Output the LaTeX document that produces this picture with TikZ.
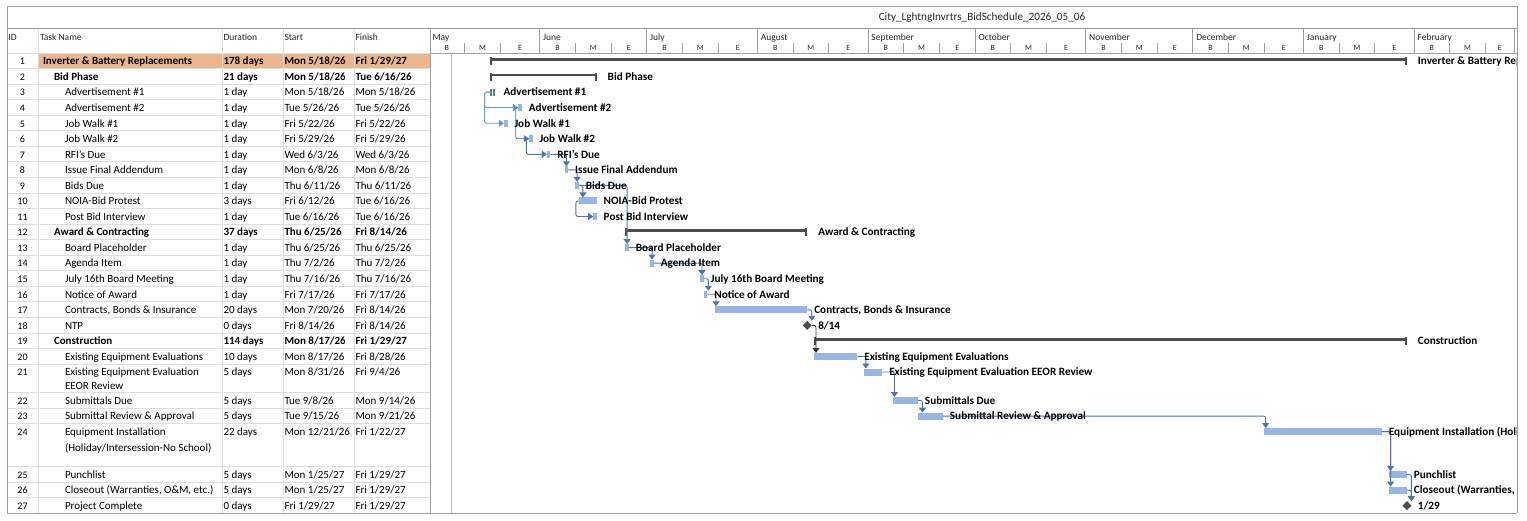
\documentclass[tikz,border=0pt]{standalone}
\usepackage{fontspec}
\setmainfont{Carlito}
\usetikzlibrary{arrows.meta,shapes.geometric,calc}
\definecolor{barblue}{RGB}{151,181,230}
\definecolor{linkblue}{RGB}{76,114,186}
\definecolor{tealbar}{RGB}{70,140,150}
\definecolor{teallink}{RGB}{110,165,190}
\definecolor{sumgray}{RGB}{77,77,77}
\definecolor{hilite}{RGB}{235,182,140}
\definecolor{gridgray}{RGB}{222,222,222}
\definecolor{framegray}{RGB}{160,160,160}

\newcommand\tabrow[8]{%
  \node[idtxt,anchor=base] (id#2) at (22.5,#1) {#2};
  \node[tabtxt,anchor=base west,font=\fontsize{11}{13}\selectfont#8] (nm#2) at (#3,#1) {#4};
  \node[tabtxt,anchor=base west,font=\fontsize{11}{13}\selectfont#8] (du#2) at (223.5,#1) {#5};
  \node[tabtxt,anchor=base west,font=\fontsize{11}{13}\selectfont#8] (st#2) at (284.5,#1) {#6};
  \node[tabtxt,anchor=base west,font=\fontsize{11}{13}\selectfont#8] (fi#2) at (355.5,#1) {#7};
}
\newcommand\gtask[5]{%
  \pgfmathsetmacro\gxa{429+3.569*(#2)}%
  \pgfmathsetmacro\gxw{3.569*((#3)-(#2))}%
  \node[taskbar,#5,minimum width=\gxw pt,anchor=west] (#1) at (\gxa,#4) {};
}
\newcommand\gsum[4]{%
  \pgfmathsetmacro\gxa{429+3.569*(#2)}%
  \pgfmathsetmacro\gxw{3.569*((#3)-(#2))}%
  \node[sumbar,minimum width=\gxw pt,anchor=west] (#1) at (\gxa,#4) {};
  \fill[sumgray] ([yshift=1pt]#1.north west) rectangle ([xshift=2pt,yshift=-4.5pt]#1.south west);
  \fill[sumgray] ([xshift=-2pt,yshift=1pt]#1.north east) rectangle ([yshift=-4.5pt]#1.south east);
}

\begin{document}
\begin{tikzpicture}[x=1pt,y=-1pt,
  tabtxt/.style={inner sep=0pt,outer sep=0pt},
  idtxt/.style={inner sep=0pt,outer sep=0pt,font=\fontsize{10}{12}\selectfont},
  hdr/.style={inner sep=0pt,outer sep=0pt,anchor=base west,font=\fontsize{9.5}{11}\selectfont,text=black!85},
  mon/.style={inner sep=0pt,outer sep=0pt,anchor=base west,font=\fontsize{9.5}{11}\selectfont,text=black!85},
  thd/.style={inner sep=0pt,outer sep=0pt,anchor=base,font=\fontsize{8}{10}\selectfont,text=black!85},
  glbl/.style={inner sep=0pt,outer sep=0pt,anchor=base west,font=\fontsize{11.2}{13}\selectfont\bfseries},
  taskbar/.style={rectangle,fill=barblue,draw=none,inner sep=0pt,outer sep=0pt,minimum height=7pt},
  sumbar/.style={rectangle,fill=sumgray,draw=none,inner sep=0pt,outer sep=0pt,minimum height=2.6pt},
  mstone/.style={diamond,fill=sumgray,draw=none,inner sep=0pt,outer sep=0pt,minimum size=9pt},
  lnk/.style={draw=linkblue,line width=0.9pt,rounded corners=2pt,-{Triangle[length=5pt,width=7pt]}},
  tlnk/.style={lnk,draw=teallink,-{Triangle[length=5pt,width=7pt,fill=linkblue!70!teallink]}},
  klnk/.style={lnk,draw=sumgray!70!black},
  grid/.style={draw=gridgray,line width=0.8pt},
  frame/.style={draw=framegray,line width=0.9pt}
]
\useasboundingbox (0,0) rectangle (1527,520);
\fill[white] (0,0) rectangle (1527,520);

% ---------- table ----------
\fill[hilite] (38,53) rectangle (430,68.55);
\foreach \yy in {53,68.55,84.1,99.65,115.2,130.75,146.3,161.85,177.4,192.95,208.5,224.05,239.6,255.15,270.7,286.25,301.8,317.35,332.9,348.45,364,392.5,408.05,423.6,466.5,482.05,497.6}
  \draw[grid] (7,\yy) -- (430,\yy);
\foreach \xx in {38,222,283,354}
  \draw[grid] (\xx,28) -- (\xx,513.15);

% frame
\draw[frame] (7,6) -- (1517,6);
\draw[frame] (7,28) -- (1517,28);
\draw[frame] (7,6) -- (7,513.15);
\draw[frame] (1517,6) -- (1517,513.15);
\draw[frame] (7,513.15) -- (1517,513.15);
\draw[frame] (430,28) -- (430,513.15);
\draw[frame] (430,53) -- (1517,53);

\node[inner sep=0pt,font=\fontsize{11.2}{13}\selectfont,text=black!85] (title) at (982,17.5) {City\_LghtngInvrtrs\_BidSchedule\_2026\_05\_06};

\node[hdr] (hid) at (8.5,40.2) {ID};
\node[hdr] (hname) at (40,40.2) {Task Name};
\node[hdr] (hdur) at (223.5,40.2) {Duration};
\node[hdr] (hstart) at (284.5,40.2) {Start};
\node[hdr] (hfin) at (355.5,40.2) {Finish};

\tabrow{64.8}{1}{43}{Inverter \& Battery Replacements}{178 days}{Mon 5/18/26}{Fri 1/29/27}{\bfseries}
\tabrow{80.35}{2}{54}{Bid Phase}{21 days}{Mon 5/18/26}{Tue 6/16/26}{\bfseries}
\tabrow{95.9}{3}{65}{Advertisement \#1}{1 day}{Mon 5/18/26}{Mon 5/18/26}{}
\tabrow{111.45}{4}{65}{Advertisement \#2}{1 day}{Tue 5/26/26}{Tue 5/26/26}{}
\tabrow{127}{5}{65}{Job Walk \#1}{1 day}{Fri 5/22/26}{Fri 5/22/26}{}
\tabrow{142.55}{6}{65}{Job Walk \#2}{1 day}{Fri 5/29/26}{Fri 5/29/26}{}
\tabrow{158.1}{7}{65}{RFI's Due}{1 day}{Wed 6/3/26}{Wed 6/3/26}{}
\tabrow{173.65}{8}{65}{Issue Final Addendum}{1 day}{Mon 6/8/26}{Mon 6/8/26}{}
\tabrow{189.2}{9}{65}{Bids Due}{1 day}{Thu 6/11/26}{Thu 6/11/26}{}
\tabrow{204.75}{10}{65}{NOIA-Bid Protest}{3 days}{Fri 6/12/26}{Tue 6/16/26}{}
\tabrow{220.3}{11}{65}{Post Bid Interview}{1 day}{Tue 6/16/26}{Tue 6/16/26}{}
\tabrow{235.85}{12}{54}{Award \& Contracting}{37 days}{Thu 6/25/26}{Fri 8/14/26}{\bfseries}
\tabrow{251.4}{13}{65}{Board Placeholder}{1 day}{Thu 6/25/26}{Thu 6/25/26}{}
\tabrow{266.95}{14}{65}{Agenda Item}{1 day}{Thu 7/2/26}{Thu 7/2/26}{}
\tabrow{282.5}{15}{65}{July 16th Board Meeting}{1 day}{Thu 7/16/26}{Thu 7/16/26}{}
\tabrow{298.05}{16}{65}{Notice of Award}{1 day}{Fri 7/17/26}{Fri 7/17/26}{}
\tabrow{313.6}{17}{65}{Contracts, Bonds \& Insurance}{20 days}{Mon 7/20/26}{Fri 8/14/26}{}
\tabrow{329.15}{18}{65}{NTP}{0 days}{Fri 8/14/26}{Fri 8/14/26}{}
\tabrow{344.7}{19}{54}{Construction}{114 days}{Mon 8/17/26}{Fri 1/29/27}{\bfseries}
\tabrow{360.25}{20}{65}{Existing Equipment Evaluations}{10 days}{Mon 8/17/26}{Fri 8/28/26}{}
\tabrow{375.8}{21}{65}{Existing Equipment Evaluation}{5 days}{Mon 8/31/26}{Fri 9/4/26}{}
\node[tabtxt,anchor=base west,font=\fontsize{11}{13}\selectfont] (nm21b) at (65,389.8) {EEOR Review};
\tabrow{404.3}{22}{65}{Submittals Due}{5 days}{Tue 9/8/26}{Mon 9/14/26}{}
\tabrow{419.85}{23}{65}{Submittal Review \& Approval}{5 days}{Tue 9/15/26}{Mon 9/21/26}{}
\tabrow{435.4}{24}{65}{Equipment Installation}{22 days}{Mon 12/21/26}{Fri 1/22/27}{}
\node[tabtxt,anchor=base west,font=\fontsize{11}{13}\selectfont] (nm24b) at (65,451.4) {(Holiday/Intersession-No School)};
\tabrow{478.3}{25}{65}{Punchlist}{5 days}{Mon 1/25/27}{Fri 1/29/27}{}
\tabrow{493.85}{26}{65}{Closeout (Warranties, O\&M, etc.)}{5 days}{Mon 1/25/27}{Fri 1/29/27}{}
\tabrow{509.4}{27}{65}{Project Complete}{0 days}{Fri 1/29/27}{Fri 1/29/27}{}

% ---------- timescale ----------
\begin{scope}
\clip (430,28) rectangle (1516.5,53);
\foreach \ma/\mb/\mname [count=\i] in {0/31/May,31/61/June,61/92/July,92/123/August,123/153/September,153/184/October,184/214/November,214/245/December,245/276/January,276/304/February}{
  \pgfmathsetmacro\xa{429+3.569*\ma}
  \pgfmathsetmacro\xb{429+3.569*(\ma+10)}
  \pgfmathsetmacro\xc{429+3.569*(\ma+20)}
  \pgfmathsetmacro\xd{429+3.569*\mb}
  \draw[frame] (\xa,28) -- (\xa,53);
  \draw[frame] (\xb,43) -- (\xb,53);
  \draw[frame] (\xc,43) -- (\xc,53);
  \draw[frame] (\xd,28) -- (\xd,53);
  \node[mon] (mon\i) at (\xa+3.5,40.2) {\mname};
  \node[thd] (tb\i) at ({(\xa+\xb)/2},50.8) {B};
  \node[thd] (tm\i) at ({(\xb+\xc)/2},50.8) {M};
  \node[thd] (te\i) at ({(\xc+\xd)/2},50.8) {E};
}
\end{scope}

% ---------- chart ----------
\begin{scope}
\clip (430.5,53.5) rectangle (1516.5,513);
\draw[grid,draw=framegray!70] (451.5,53) -- (451.5,513.15);

\gsum{s1}{17}{274}{59.5}
\gsum{s2}{17}{47}{75.05}
\gtask{b3}{17}{18.4}{92.1}{fill=tealbar}
\draw[white,line width=0.7pt] (b3.north) -- (b3.south);
\gtask{b4}{25}{26}{107.65}{}
\gtask{b5}{21}{22}{123.2}{}
\gtask{b6}{28}{29}{138.75}{}
\gtask{b7}{33}{34}{154.3}{}
\gtask{b8}{38}{39}{169.85}{}
\gtask{b9}{41}{42}{185.4}{}
\gtask{b10}{42}{47}{200.95}{}
\gtask{b11}{46}{47}{216.5}{}
\gsum{s12}{55}{106}{230.55}
\gtask{b13}{55}{56}{247.6}{}
\gtask{b14}{62}{63}{263.15}{}
\gtask{b15}{76}{77}{278.7}{}
\gtask{b16}{77}{78}{294.25}{}
\gtask{b17}{80}{106}{309.8}{}
\node[mstone] (m18) at (807.3,325.35) {};
\gsum{s19}{108}{274}{339.4}
\gtask{b20}{108}{120}{356.45}{}
\gtask{b21}{122}{127}{372}{}
\gtask{b22}{130}{137}{400.5}{}
\gtask{b23}{137}{144}{416.05}{}
\gtask{b24}{234}{267}{431.6}{}
\gtask{b25}{269}{274}{474.5}{}
\gtask{b26}{269}{274}{490.05}{}
\node[mstone] (m27) at (1406.9,505.6) {};

% links
\draw[tlnk] (b3.west) -- ++(-5,0) |- (b4.west);
\draw[tlnk] (b3.west) -- ++(-5,0) |- (b5.west);
\draw[lnk] (b4.west) -- ++(-2.5,0) |- (b6.west);
\draw[lnk] (b6.west) -- ++(-2.5,0) |- (b7.west);
\draw[lnk] (b7.east) -| (b8.north);
\draw[lnk] (b8.east) -| (b9.north);
\draw[lnk] (b9.east) -| ([xshift=4pt]b9.east |- b10.north);
\draw[lnk] (b10.west) -- ++(-3,0) |- (b11.west);
\draw[lnk] (b9.east) -| (b13.north);
\draw[lnk] (b13.east) -| (b14.north);
\draw[lnk] (b14.east) -| (b15.north);
\draw[lnk] (b15.east) -| ([xshift=4.5pt]b15.east |- b16.north);
\draw[lnk] (b16.east) -| ([xshift=1.5pt]b17.north west);
\draw[lnk] (b17.east) -| ([xshift=4.5pt]b17.east |- m18.north);
\draw[klnk] (m18.east) -| ([xshift=1.5pt]b20.north west);
\draw[lnk] (b20.east) -| ([xshift=1.5pt]b21.north west);
\draw[lnk] (b21.east) -| ([xshift=1.5pt]b22.north west);
\draw[lnk] (b22.east) -| ([xshift=4.5pt]b22.east |- b23.north);
\draw[lnk] (b23.east) -| ([xshift=1.5pt]b24.north west);
\draw[lnk] (b24.east) -| ([xshift=1.5pt]b25.north west);
\draw[lnk] (b24.east) -| ([xshift=1.5pt]b26.north west);
\draw[lnk] (b25.east) -| ([xshift=4.5pt]b25.east |- m27.north);
\draw[lnk] (b26.east) -| ([xshift=4.5pt]b26.east |- m27.north);

% labels
\node[glbl] (l1) at ([xshift=11pt,yshift=-5.3pt]s1.east) {Inverter \& Battery Replacements};
\node[glbl] (l2) at ([xshift=11pt,yshift=-5.3pt]s2.east) {Bid Phase};
\node[glbl] (l3) at ([xshift=9pt,yshift=-3.8pt]b3.east) {Advertisement \#1};
\node[glbl] (l4) at ([xshift=7pt,yshift=-3.8pt]b4.east) {Advertisement \#2};
\node[glbl] (l5) at ([xshift=7pt,yshift=-3.8pt]b5.east) {Job Walk \#1};
\node[glbl] (l6) at ([xshift=7pt,yshift=-3.8pt]b6.east) {Job Walk \#2};
\node[glbl] (l7) at ([xshift=7pt,yshift=-3.8pt]b7.east) {RFI's Due};
\node[glbl] (l8) at ([xshift=7pt,yshift=-3.8pt]b8.east) {Issue Final Addendum};
\node[glbl] (l9) at ([xshift=7pt,yshift=-3.8pt]b9.east) {Bids Due};
\node[glbl] (l10) at ([xshift=7pt,yshift=-3.8pt]b10.east) {NOIA-Bid Protest};
\node[glbl] (l11) at ([xshift=7pt,yshift=-3.8pt]b11.east) {Post Bid Interview};
\node[glbl] (l12) at ([xshift=11pt,yshift=-5.3pt]s12.east) {Award \& Contracting};
\node[glbl] (l13) at ([xshift=7pt,yshift=-3.8pt]b13.east) {Board Placeholder};
\node[glbl] (l14) at ([xshift=7pt,yshift=-3.8pt]b14.east) {Agenda Item};
\node[glbl] (l15) at ([xshift=7pt,yshift=-3.8pt]b15.east) {July 16th Board Meeting};
\node[glbl] (l16) at ([xshift=7pt,yshift=-3.8pt]b16.east) {Notice of Award};
\node[glbl] (l17) at ([xshift=7pt,yshift=-3.8pt]b17.east) {Contracts, Bonds \& Insurance};
\node[glbl] (l18) at ([xshift=6.5pt,yshift=-3.8pt]m18.east) {8/14};
\node[glbl] (l19) at ([xshift=11pt,yshift=-5.3pt]s19.east) {Construction};
\node[glbl] (l20) at ([xshift=7pt,yshift=-3.8pt]b20.east) {Existing Equipment Evaluations};
\node[glbl] (l21) at ([xshift=7pt,yshift=-3.8pt]b21.east) {Existing Equipment Evaluation EEOR Review};
\node[glbl] (l22) at ([xshift=7pt,yshift=-3.8pt]b22.east) {Submittals Due};
\node[glbl] (l23) at ([xshift=7pt,yshift=-3.8pt]b23.east) {Submittal Review \& Approval};
\node[glbl] (l24) at ([xshift=7pt,yshift=-3.8pt]b24.east) {Equipment Installation (Holiday/Intersession-No School)};
\node[glbl] (l25) at ([xshift=7pt,yshift=-3.8pt]b25.east) {Punchlist};
\node[glbl] (l26) at ([xshift=7pt,yshift=-3.8pt]b26.east) {Closeout (Warranties, O\&M, etc.)};
\node[glbl] (l27) at ([xshift=6.5pt,yshift=-3.8pt]m27.east) {1/29};
\end{scope}
\end{tikzpicture}
\end{document}
